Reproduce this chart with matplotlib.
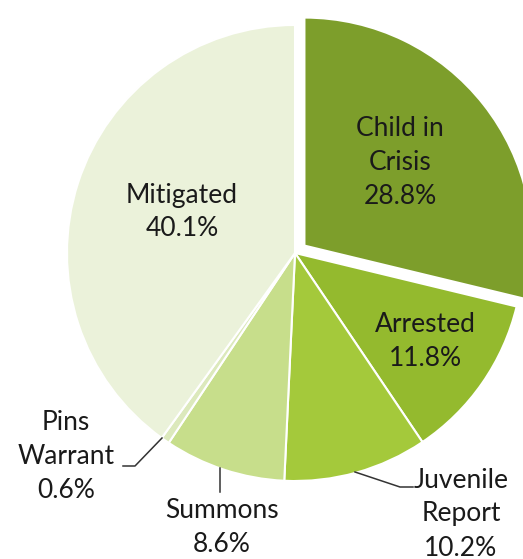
import matplotlib
matplotlib.use("Agg")
import matplotlib.pyplot as plt

# slices, clockwise from 12 o'clock
labels = ["Child in\nCrisis", "Arrested", "Juvenile\nReport", "Summons", "Pins\nWarrant", "Mitigated"]
shares = [28.8, 11.8, 10.2, 8.6, 0.6, 40.1]
colors = ["#7d9e2b", "#94ba2e", "#a4c93b", "#c7de8b", "#dce9bc", "#ebf2da"]
explode = [12, 0, 0, 0, 0, 0]   # pixels (matplotlib doesn't scale explode by radius)

# label anchor points (pixels, origin top-left) and leader lines
label_pos = [(400, 163), (425, 342), (461, 514), (222, 528), (66, 457), (182, 212)]
leaders = {
    "Juvenile\nReport": [(355, 472), (400, 487), (413, 487)],
    "Summons": [(220, 468), (220, 492)],
    "Pins\nWarrant": [(162, 438), (135, 466), (123, 466)],
}

W, H = 523, 559
plt.rcParams['font.family'] = ['Lato', 'DejaVu Sans']

fig = plt.figure(figsize=(W / 100, H / 100), dpi=100)
ax = fig.add_axes([0, 0, 1, 1])

ax.pie(shares, colors=colors, explode=explode, startangle=90, counterclock=False,
       center=(295, H - 253), radius=228, frame=True,
       wedgeprops=dict(edgecolor='white', linewidth=1.5))
ax.set_xlim(0, W)
ax.set_ylim(0, H)
ax.set_aspect('equal')
ax.axis('off')

for lab, val, (x, y) in zip(labels, shares, label_pos):
    ax.text(x, H - y, "%s\n%.1f%%" % (lab, val), ha='center', va='center',
            fontsize=19, color='#1a1a1a', linespacing=1.45)

for lab, pts in leaders.items():
    ax.plot([p[0] for p in pts], [H - p[1] for p in pts], color='#333333', lw=1.1)

fig.savefig("out.png", dpi=100)
